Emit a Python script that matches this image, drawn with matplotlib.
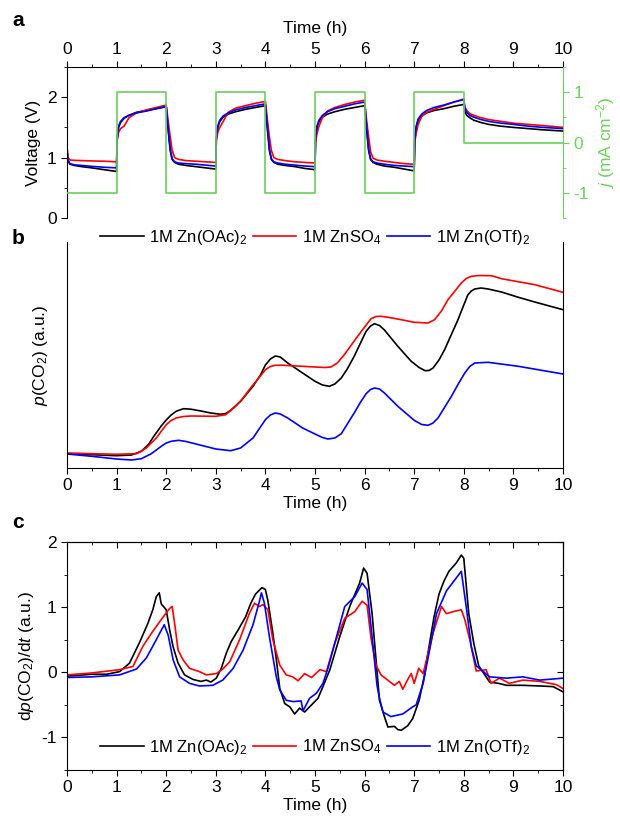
import matplotlib
matplotlib.use('Agg')
import matplotlib.pyplot as plt
from matplotlib.ticker import MultipleLocator

plt.rcParams['font.family'] = ['Liberation Sans', 'DejaVu Sans']
plt.rcParams['mathtext.fontset'] = 'custom'
plt.rcParams['mathtext.rm'] = 'Liberation Sans'
plt.rcParams['mathtext.it'] = 'Liberation Sans:italic'
plt.rcParams['axes.unicode_minus'] = False
plt.rcParams['font.size'] = 12.5

labels = ['1M Zn(OAc)$_2$', '1M ZnSO$_4$', '1M Zn(OTf)$_2$']
colors = ['black', 'red', 'blue']
green = '#6cd05c'

# ---- panel a: voltage and current vs time
ta = [0, 0.02, 0.06, 0.15, 0.3, 0.5, 0.75, 1.0,
      1.01, 1.04, 1.08, 1.15, 1.25, 1.4, 1.6, 1.8, 2.0,
      2.04, 2.08, 2.12, 2.17, 2.25, 2.4, 2.6, 2.8, 3.0,
      3.01, 3.04, 3.08, 3.15, 3.25, 3.4, 3.6, 3.8, 4.0,
      4.04, 4.08, 4.12, 4.17, 4.25, 4.4, 4.6, 4.8, 5.0,
      5.01, 5.04, 5.08, 5.15, 5.25, 5.4, 5.6, 5.8, 6.0,
      6.04, 6.08, 6.12, 6.17, 6.25, 6.4, 6.6, 6.8, 7.0,
      7.01, 7.04, 7.08, 7.15, 7.25, 7.4, 7.6, 7.8, 8.0,
      8.02, 8.06, 8.12, 8.2, 8.35, 8.5, 8.75, 9.0, 9.3, 9.6, 10.0]
v_oac = [1.15, 0.95, 0.89, 0.87, 0.85, 0.83, 0.80, 0.77,
         1.30, 1.50, 1.58, 1.65, 1.70, 1.75, 1.78, 1.81, 1.84,
         1.45, 1.12, 0.97, 0.92, 0.89, 0.87, 0.85, 0.83, 0.81,
         1.30, 1.50, 1.60, 1.67, 1.72, 1.76, 1.80, 1.83, 1.86,
         1.47, 1.12, 0.97, 0.92, 0.89, 0.87, 0.85, 0.82, 0.80,
         1.28, 1.50, 1.60, 1.67, 1.72, 1.76, 1.80, 1.83, 1.86,
         1.47, 1.12, 0.97, 0.92, 0.89, 0.86, 0.84, 0.81, 0.78,
         1.28, 1.50, 1.62, 1.69, 1.74, 1.78, 1.81, 1.85, 1.88,
         1.76, 1.70, 1.66, 1.62, 1.58, 1.55, 1.52, 1.50, 1.48, 1.46, 1.44]
v_so4 = [1.19, 1.00, 0.96, 0.955, 0.95, 0.945, 0.94, 0.93,
         1.28, 1.42, 1.48, 1.52, 1.66, 1.74, 1.79, 1.83, 1.87,
         1.60, 1.35, 1.12, 1.00, 0.97, 0.95, 0.94, 0.93, 0.92,
         1.28, 1.42, 1.50, 1.60, 1.75, 1.82, 1.86, 1.90, 1.93,
         1.62, 1.35, 1.12, 1.00, 0.97, 0.95, 0.93, 0.92, 0.91,
         1.25, 1.40, 1.52, 1.66, 1.77, 1.83, 1.88, 1.92, 1.95,
         1.62, 1.35, 1.10, 0.99, 0.96, 0.94, 0.92, 0.90, 0.89,
         1.25, 1.40, 1.55, 1.68, 1.75, 1.80, 1.86, 1.92, 1.97,
         1.84, 1.78, 1.73, 1.70, 1.66, 1.63, 1.60, 1.57, 1.55, 1.53, 1.50]
v_otf = [1.12, 0.95, 0.90, 0.88, 0.87, 0.855, 0.84, 0.83,
         1.32, 1.52, 1.60, 1.66, 1.70, 1.74, 1.77, 1.81, 1.85,
         1.50, 1.15, 0.98, 0.93, 0.91, 0.90, 0.89, 0.875, 0.86,
         1.32, 1.52, 1.62, 1.69, 1.74, 1.79, 1.83, 1.86, 1.89,
         1.52, 1.15, 0.98, 0.93, 0.91, 0.89, 0.875, 0.86, 0.85,
         1.30, 1.52, 1.62, 1.70, 1.76, 1.81, 1.85, 1.89, 1.92,
         1.52, 1.15, 0.98, 0.93, 0.91, 0.89, 0.87, 0.86, 0.85,
         1.30, 1.52, 1.64, 1.72, 1.78, 1.83, 1.87, 1.92, 1.96,
         1.82, 1.75, 1.70, 1.67, 1.63, 1.60, 1.57, 1.55, 1.52, 1.50, 1.48]
tj = [0, 1, 2, 3, 4, 5, 6, 7, 8, 10]
jj = [-1, 1, -1, 1, -1, 1, -1, 1, 0, 0]

# ---- panel b: p(CO2), arbitrary units
tb_oac = [0, 0.5, 1.0, 1.3, 1.5, 1.65, 1.75, 1.9, 2.0, 2.1, 2.2, 2.35, 2.5, 2.7, 2.9,
          3.1, 3.2, 3.3, 3.5, 3.75, 3.9, 4.0, 4.1, 4.2, 4.3, 4.45, 4.6, 4.75, 5.0, 5.15,
          5.29, 5.4, 5.53, 5.65, 5.79, 6.03, 6.12, 6.2, 6.3, 6.4, 6.67, 6.94, 7.1, 7.22,
          7.3, 7.38, 7.5, 7.61, 7.88, 8.0, 8.08, 8.15, 8.22, 8.35, 8.49, 8.76, 9.1, 9.43, 10.0]
p_oac = [14.3, 13.3, 12.3, 13, 16.7, 24, 31.7, 42, 48, 53, 56.7, 59.3, 58.8, 57, 55,
         53.7, 54.5, 57.7, 66.7, 81.7, 93, 103, 109, 112, 111, 105, 100, 95, 86.7, 83,
         81.7, 84, 90, 99, 111.7, 136.7, 142, 144.3, 142.5, 138, 121.7, 106.7, 100.5, 97.3,
         97.5, 100, 108, 118, 148, 163, 173, 177, 179, 180, 179, 176, 170.7, 166, 158.3]
tb_so4 = [0, 0.5, 1.0, 1.4, 1.6, 1.8, 2.0, 2.1, 2.2, 2.35, 2.5, 3.0, 3.2, 3.4, 3.55,
          3.7, 3.85, 4.0, 4.1, 4.2, 4.35, 4.5, 4.75, 5.0, 5.2, 5.32, 5.45, 5.59, 5.86, 6.0,
          6.13, 6.23, 6.33, 6.5, 6.74, 7.0, 7.28, 7.41, 7.55, 7.68, 7.95, 8.05, 8.15, 8.3,
          8.56, 8.76, 9.43, 10.0]
p_so4 = [15, 14.3, 13.7, 14.3, 20, 30, 43.3, 47.5, 50, 51.5, 52, 51.7, 53.3, 61.7, 70,
         80, 89, 98.3, 101.5, 102.7, 102.8, 102.3, 101.7, 101, 100.5, 101, 105, 113.3, 131.7, 141,
         149.3, 151.5, 151.7, 150.5, 148.3, 145.7, 145, 148.3, 157, 168.3, 185, 189.5, 191.7, 192.5,
         192.3, 189.3, 183.3, 175.7]
tb_otf = [0, 0.5, 1.0, 1.3, 1.5, 1.7, 1.9, 2.0, 2.1, 2.25, 2.4, 2.6, 3.0, 3.3, 3.5,
          3.75, 3.9, 4.0, 4.1, 4.2, 4.3, 4.45, 4.75, 5.0, 5.15, 5.26, 5.4, 5.53, 5.79, 5.92,
          6.03, 6.12, 6.2, 6.3, 6.4, 6.67, 7.0, 7.15, 7.28, 7.38, 7.48, 7.75, 7.9, 8.02,
          8.12, 8.22, 8.49, 9.1, 10.0]
p_otf = [14, 11.7, 9, 8, 9.3, 14.3, 21.7, 25, 26.7, 27.7, 26.5, 24, 19, 17.3, 20,
         30, 41, 48.3, 53, 55, 54, 50, 40, 34, 30.5, 29, 30, 34.3, 55, 66,
         74.3, 78.5, 80, 79, 75, 61.7, 47.7, 43.5, 42.7, 45, 50, 71.7, 85, 95,
         101.5, 105, 105.7, 101.7, 94]

# ---- panel c: dp(CO2)/dt
tc_oac = [0, 0.5, 0.8, 1.06, 1.26, 1.47, 1.63, 1.73, 1.8, 1.86, 1.9, 2.0, 2.07, 2.14,
          2.24, 2.37, 2.54, 2.7, 2.81, 2.9, 3.01, 3.11, 3.21, 3.31, 3.45, 3.6, 3.7, 3.8,
          3.93, 4.0, 4.05, 4.15, 4.22, 4.29, 4.39, 4.49, 4.59, 4.69, 4.79, 4.93, 5.06,
          5.16, 5.3, 5.5, 5.7, 5.9, 5.98, 6.05, 6.15, 6.3, 6.4, 6.47, 6.6, 6.67, 6.74,
          6.87, 6.97, 7.1, 7.2, 7.3, 7.4, 7.5, 7.6, 7.7, 7.85, 7.95, 8.0, 8.1, 8.2, 8.3,
          8.52, 8.7, 8.86, 9.19, 9.53, 9.8, 10.0]
d_oac = [-0.06, -0.03, -0.03, 0.01, 0.14, 0.47, 0.75, 0.96, 1.16, 1.22, 1.05, 0.96, 0.65,
         0.39, 0.14, -0.04, -0.11, -0.14, -0.12, -0.15, -0.09, 0.06, 0.29, 0.47, 0.65,
         0.85, 1.05, 1.2, 1.3, 1.27, 1.1, 0.6, 0.2, -0.25, -0.48, -0.53, -0.64, -0.55,
         -0.61, -0.5, -0.4, -0.22, 0.04, 0.55, 1.01, 1.37, 1.6, 1.52, 0.91, -0.43, -0.68,
         -0.84, -0.83, -0.88, -0.89, -0.82, -0.71, -0.43, -0.07, 0.4, 0.85, 1.2, 1.4,
         1.55, 1.68, 1.8, 1.75, 0.9, 0.45, 0.1, -0.15, -0.17, -0.2, -0.2, -0.21, -0.22, -0.3]
tc_so4 = [0, 0.5, 1.06, 1.33, 1.53, 1.73, 1.94, 2.07, 2.12, 2.17, 2.24, 2.34, 2.47, 2.67,
          2.81, 3.01, 3.14, 3.28, 3.48, 3.68, 3.78, 3.88, 3.95, 4.05, 4.15, 4.29, 4.42,
          4.55, 4.66, 4.79, 4.93, 5.1, 5.23, 5.4, 5.6, 5.8, 5.95, 6.05, 6.13, 6.23, 6.33,
          6.5, 6.6, 6.7, 6.77, 6.87, 6.94, 7.0, 7.09, 7.18, 7.38, 7.55, 7.65, 7.78, 7.95,
          8.02, 8.12, 8.25, 8.45, 8.55, 8.72, 8.92, 9.19, 9.53, 9.87, 10.0]
d_so4 = [-0.04, -0.01, 0.04, 0.09, 0.4, 0.63, 0.85, 0.98, 1.01, 0.75, 0.34, 0.19, 0.06,
         0.01, -0.04, -0.02, 0.05, 0.16, 0.5, 0.91, 1.06, 1.01, 1.04, 0.96, 0.5, 0.11,
         -0.04, -0.07, -0.13, -0.02, -0.08, 0.04, 0.01, 0.45, 0.83, 0.93, 1.09, 1.03,
         0.52, 0.11, -0.04, -0.14, -0.2, -0.14, -0.26, -0.11, -0.02, -0.17, 0.06, -0.02,
         0.6, 1.01, 0.9, 0.93, 0.96, 0.81, 0.5, 0.02, 0.04, -0.17, -0.09, -0.17, -0.12,
         -0.14, -0.19, -0.25]
tc_otf = [0, 0.5, 1.06, 1.4, 1.6, 1.8, 1.96, 2.04, 2.14, 2.27, 2.47, 2.67, 2.94, 3.14,
          3.35, 3.55, 3.75, 3.88, 3.92, 3.98, 4.08, 4.22, 4.29, 4.42, 4.56, 4.72, 4.76,
          4.89, 5.03, 5.16, 5.26, 5.4, 5.6, 5.8, 5.95, 6.05, 6.15, 6.25, 6.3, 6.37, 6.53,
          6.77, 6.97, 7.04, 7.18, 7.31, 7.45, 7.65, 7.85, 7.95, 8.05, 8.15, 8.25, 8.52,
          8.86, 9.19, 9.53, 10.0]
d_otf = [-0.08, -0.07, -0.04, 0.05, 0.22, 0.5, 0.73, 0.57, 0.19, -0.07, -0.17, -0.21,
         -0.2, -0.12, 0.06, 0.34, 0.73, 1.09, 1.22, 1.06, 0.55, -0.07, -0.27, -0.43,
         -0.45, -0.44, -0.59, -0.4, -0.32, -0.17, 0.06, 0.45, 1.01, 1.16, 1.37, 1.27,
         0.55, -0.2, -0.4, -0.61, -0.68, -0.64, -0.53, -0.5, -0.17, 0.34, 0.9, 1.25,
         1.45, 1.55, 1.0, 0.4, 0.1, -0.07, -0.09, -0.07, -0.12, -0.09]

W, H = 620, 822
fig = plt.figure(figsize=(W / 100, H / 100), dpi=100)

def box(left, top, right, bottom):
    return [left / W, 1 - bottom / H, (right - left) / W, (bottom - top) / H]

def ticks(ax):
    ax.tick_params(which='major', length=4)
    ax.tick_params(which='minor', length=2.5)

lw = 1.2

# ================= a
ax1 = fig.add_axes(box(67, 67, 563, 218))
for v, c in zip([v_oac, v_so4, v_otf], colors):
    ax1.plot(ta, v, color=c, lw=lw)
ax1.set_xlim(0, 10)
ax1.set_ylim(0, 2.5)
ax1.xaxis.tick_top()
ax1.xaxis.set_label_position('top')
ax1.set_xticks(range(11))
ax1.xaxis.set_minor_locator(MultipleLocator(0.5))
ax1.set_yticks([0, 1, 2])
ax1.yaxis.set_minor_locator(MultipleLocator(0.5))
ax1.tick_params(which='both', direction='out')
ticks(ax1)
ax1.spines['bottom'].set_visible(False)
ax1.spines['right'].set_visible(False)
ax1.set_xlabel('Time (h)', labelpad=6)
ax1.set_ylabel('Voltage (V)')

ax1r = ax1.twinx()
ax1r.plot(tj, jj, color=green, lw=lw, drawstyle='steps-post')
ax1r.set_ylim(-1.5, 1.5)
ax1r.set_yticks([-1, 0, 1])
ax1r.yaxis.set_minor_locator(MultipleLocator(0.5))
ax1r.tick_params(which='both', direction='out', colors=green)
ticks(ax1r)
for s in ['top', 'bottom', 'left']:
    ax1r.spines[s].set_visible(False)
ax1r.spines['right'].set_color(green)
ax1r.set_ylabel('$j$ (mA cm$^{-2}$)', color=green)

# ================= b
ax2 = fig.add_axes(box(67, 242, 563, 468))
for t, p, c, lab in zip([tb_oac, tb_so4, tb_otf], [p_oac, p_so4, p_otf], colors, labels):
    ax2.plot(t, [x / 100 for x in p], color=c, lw=lw, label=lab)
ax2.set_xlim(0, 10)
ax2.set_ylim(0, 2.26)
ax2.set_xticks(range(11))
ax2.xaxis.set_minor_locator(MultipleLocator(0.5))
ax2.set_yticks([])
ax2.spines['top'].set_visible(False)
ax2.tick_params(which='both', direction='out')
ticks(ax2)
ax2.set_xlabel('Time (h)', labelpad=2)
ax2.set_ylabel('$p$(CO$_2$) (a.u.)', labelpad=12)
ax2.legend(loc='center', bbox_to_anchor=(0.5, 1.02), ncol=3, frameon=False,
           handlelength=2.6, handletextpad=0.35, columnspacing=0.3, fontsize=12)

# ================= c
ax3 = fig.add_axes(box(67, 542, 563, 770))
for t, d, c, lab in zip([tc_oac, tc_so4, tc_otf], [d_oac, d_so4, d_otf], colors, labels):
    ax3.plot(t, d, color=c, lw=lw, label=lab)
ax3.set_xlim(0, 10)
ax3.set_ylim(-1.5, 2)
ax3.set_xticks(range(11))
ax3.xaxis.set_minor_locator(MultipleLocator(0.5))
ax3.set_yticks([-1, 0, 1, 2])
ax3.yaxis.set_minor_locator(MultipleLocator(0.5))
ax3.tick_params(which='both', direction='out')
ticks(ax3)
ax3.set_xlabel('Time (h)', labelpad=2)
ax3.set_ylabel('d$p$(CO$_2$)/d$t$ (a.u.)')
ax3.legend(loc='center', bbox_to_anchor=(0.5, 0.1), ncol=3, frameon=False,
           handlelength=2.6, handletextpad=0.35, columnspacing=0.3, fontsize=12)
sx = ax3.secondary_xaxis('top')
sx.set_xticks(range(11))
sx.xaxis.set_minor_locator(MultipleLocator(0.5))
sx.tick_params(which='both', direction='in', labeltop=False)
ticks(sx)
sy = ax3.secondary_yaxis('right')
sy.set_yticks([-1, 0, 1, 2])
sy.yaxis.set_minor_locator(MultipleLocator(0.5))
sy.tick_params(which='both', direction='in', labelright=False)
ticks(sy)

fig.text(12 / W, 1 - 20 / H, 'a', fontsize=15, fontweight='bold', va='center')
fig.text(12 / W, 1 - 238 / H, 'b', fontsize=15, fontweight='bold', va='center')
fig.text(12 / W, 1 - 522 / H, 'c', fontsize=15, fontweight='bold', va='center')

fig.savefig('out.png', dpi=100)
